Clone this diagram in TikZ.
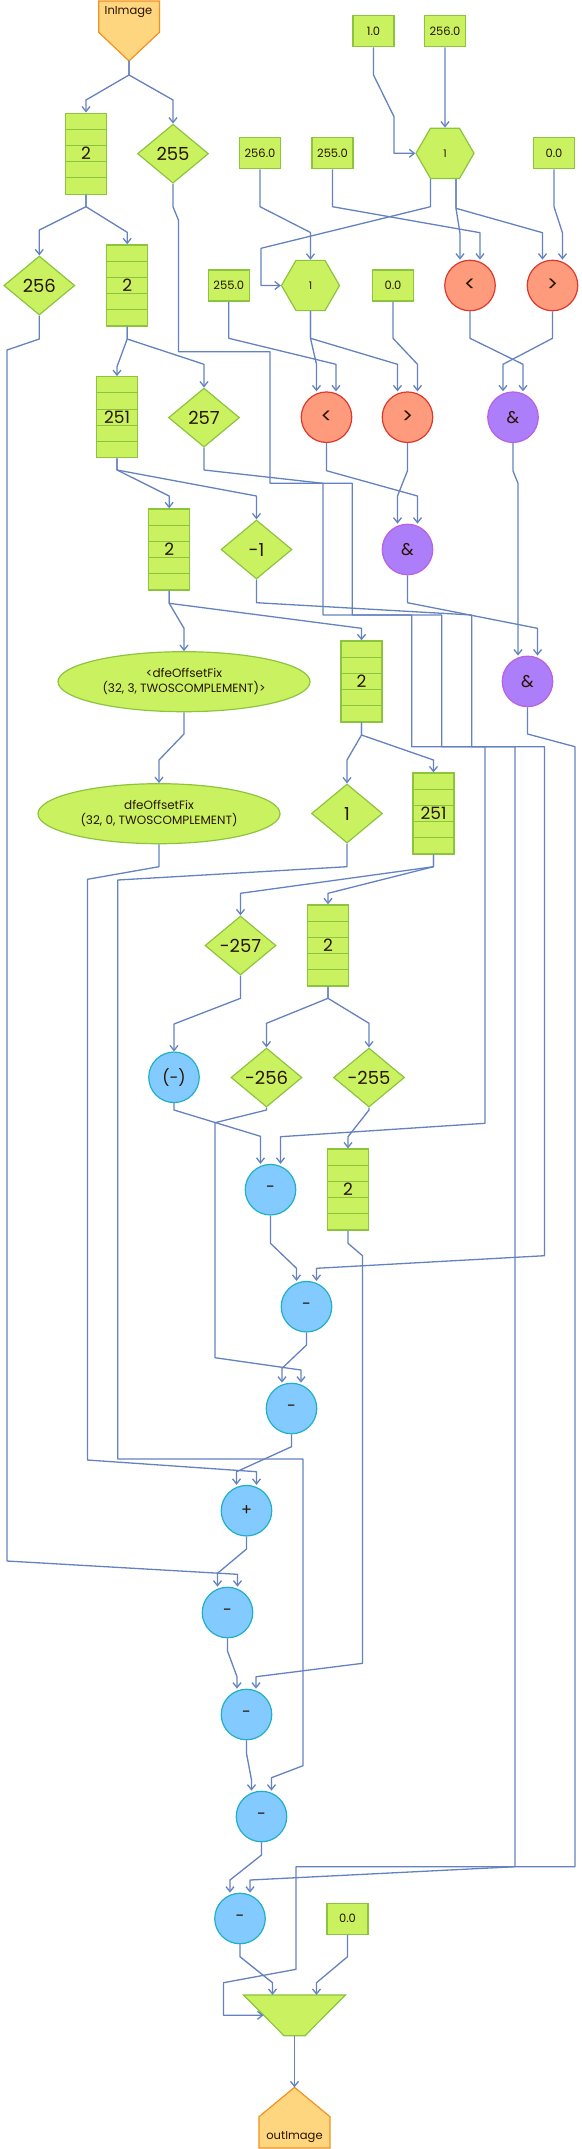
\documentclass[tikz,border=0pt]{standalone}
\usepackage{fontspec}
\setmainfont{Poppins}
\usetikzlibrary{arrows.meta,shapes.geometric,calc}
\definecolor{gfill}{RGB}{202,242,96}
\definecolor{gdraw}{RGB}{140,196,62}
\definecolor{ofill}{RGB}{255,214,128}
\definecolor{odraw}{RGB}{240,146,30}
\definecolor{rfill}{RGB}{255,155,125}
\definecolor{rdraw}{RGB}{222,56,44}
\definecolor{pfill}{RGB}{172,126,250}
\definecolor{pdraw}{RGB}{186,96,226}
\definecolor{bfill}{RGB}{130,202,255}
\definecolor{bdraw}{RGB}{32,176,196}
\definecolor{ecol}{RGB}{100,130,192}
\definecolor{tcol}{RGB}{40,20,0}
\begin{document}
\begin{tikzpicture}[x=1pt,y=-1pt,
  every node/.style={text=tcol},
  nbase/.style={line width=1.2pt, inner sep=0pt},
  constbox/.style={nbase, rectangle, draw=gdraw, fill=gfill, minimum width=41pt, minimum height=31pt, font=\fontsize{11.5}{13}\selectfont},
  fifobox/.style={nbase, rectangle, draw=gdraw, fill=gfill, minimum width=41pt, minimum height=81pt, font=\fontsize{17}{17}\selectfont,
    path picture={\foreach \f in {0.2,0.4,0.6,0.8}{\draw[gdraw,line width=1.1pt] ($(path picture bounding box.north west)!\f!(path picture bounding box.south west)$) -- ($(path picture bounding box.north east)!\f!(path picture bounding box.south east)$);}}},
  dia/.style={nbase, diamond, draw=gdraw, fill=gfill, minimum width=71pt, minimum height=59pt, font=\fontsize{18}{18}\selectfont},
  hexa/.style={nbase, regular polygon, regular polygon sides=6, draw=gdraw, fill=gfill, minimum size=58pt, font=\fontsize{10.5}{10.5}\selectfont},
  cmp/.style={nbase, circle, draw=rdraw, fill=rfill, minimum size=50.5pt, font=\fontsize{21}{21}\selectfont},
  andop/.style={nbase, circle, draw=pdraw, fill=pfill, minimum size=50.5pt, font=\fontsize{17}{17}\selectfont},
  arith/.style={nbase, circle, draw=bdraw, fill=bfill, minimum size=50.5pt, font=\fontsize{16}{16}\selectfont},
  oval/.style={nbase, ellipse, draw=gdraw, fill=gfill, minimum height=60pt, align=center, font=\fontsize{12}{14.5}\selectfont},
  ioshape/.style={draw=odraw, fill=ofill, line width=1.2pt},
  gpoly/.style={draw=gdraw, fill=gfill, line width=1.2pt},
  conn/.style={draw=ecol, line width=1.3pt, line join=round, -{Straight Barb[length=5pt,width=8pt]}},
]
\useasboundingbox (0,0) rectangle (581,2149);

% ---------- nodes ----------
\draw[ioshape] (98.7,1) -- (159.4,1) -- (159.4,32.3) -- (129,61) -- (98.7,32.3) -- cycle;
\node[font=\fontsize{11.5}{13}\selectfont] (inImg) at (128.5,12) {InImage};
\coordinate (inImgOut) at (129,61);

\node[constbox] (c1) at (373.5,31.2) {1.0};
\node[constbox] (c2) at (445,31.2) {256.0};

\node[fifobox] (fifoA) at (86,153.6) {2};
\node[dia] (d255) at (173,153.7) {255};
\node[constbox] (c3) at (260,153.2) {256.0};
\node[constbox] (c4) at (332.5,153.2) {255.0};
\node[hexa] (hexA) at (445,153.3) {1};
\node[constbox] (c5) at (554,153.2) {0.0};

\node[dia] (d256) at (39.3,285.5) {256};
\node[fifobox] (fifoB) at (127.2,285.4) {2};
\node[constbox] (c6) at (228.8,285.5) {255.0};
\node[hexa] (hexB) at (310.5,285.5) {1};
\node[constbox] (c7) at (393,285.5) {0.0};
\node[cmp] (ltA) at (470,285.5) {<};
\node[cmp] (gtA) at (552.5,285.5) {>};

\node[fifobox] (fifoC) at (117,417.2) {251};
\node[dia] (d257) at (204,417.6) {257};
\node[cmp] (ltB) at (326.5,417.2) {<};
\node[cmp] (gtB) at (407.5,417.2) {>};
\node[andop] (andA) at (513,417.2) {\&};

\node[fifobox] (fifoD) at (169.2,549.4) {2};
\node[dia] (dm1) at (256.5,549.5) {-1};
\node[andop] (andB) at (407.5,549.5) {\&};

\node[oval, minimum width=252pt] (ell1) at (184,681.7) {<dfeOffsetFix\\(32, 3, TWOSCOMPLEMENT)>};
\node[fifobox] (fifoE) at (361.5,681.4) {2};
\node[andop] (andC) at (527.5,681.4) {\&};

\node[oval, minimum width=242pt] (ell2) at (159,813.7) {dfeOffsetFix\\(32, 0, TWOSCOMPLEMENT)};
\node[dia] (d1) at (347,813.5) {1};
\node[fifobox] (fifoF) at (433.5,813.5) {251};

\node[dia] (dm257) at (240.5,945.5) {-257};
\node[fifobox] (fifoG) at (328,945.4) {2};

\node[arith] (neg) at (174,1077.3) {(-)};
\node[dia] (dm256) at (266.5,1077.5) {-256};
\node[dia] (dm255) at (369,1077.5) {-255};

\node[arith] (sub1) at (270.5,1189.7) {-};
\node[fifobox] (fifoH) at (348,1189.5) {2};
\node[arith] (sub2) at (306.5,1306.7) {-};
\node[arith] (sub3) at (291.5,1408.5) {-};
\node[arith] (addop) at (246.5,1510.7) {+};
\node[arith] (sub4) at (227.5,1612.5) {-};
\node[arith] (sub5) at (246.5,1714.5) {-};
\node[arith] (sub6) at (261.5,1816.5) {-};
\node[arith] (sub7) at (240,1918.5) {-};
\node[constbox] (c8) at (347.5,1918.7) {0.0};

\node[minimum width=102pt, minimum height=40.7pt, inner sep=0pt, outer sep=0pt] (mux) at (294.5,2015.3) {};
\draw[gpoly] (mux.north west) -- (mux.north east) -- ([xshift=-40.5pt]mux.south east) -- ([xshift=40.5pt]mux.south west) -- cycle;

\draw[ioshape] (259,2148) -- (330,2148) -- (330,2116.7) -- (294.5,2087.3) -- (259,2116.7) -- cycle;
\node[font=\fontsize{11.5}{13}\selectfont] (outImg) at (294.5,2137.5) {outImage};
\coordinate (outImgIn) at (294.5,2087.3);

% ---------- connectors ----------
\draw[conn] (inImgOut) -- (129,75) -- (86,100) -- (fifoA.north);
\draw[conn] (inImgOut) -- (129,75) -- (173,100) -- (d255.north);
\draw[conn] (c1.south) -- (373.5,75) -- (394,116.7) -- (394,153.3) -- (hexA.west);
\draw[conn] (c2.south) -- (hexA.north);
\draw[conn] (fifoA.south) -- (86,206.7) -- (39.3,230) -- (d256.north);
\draw[conn] (fifoA.south) -- (86,206.7) -- (127.2,232.3) -- (fifoB.north);
\draw[conn] (d255.south) -- (173,206.7) -- (178.4,220) -- (178.4,351.7) -- (270,351.7) -- (270,483.3) -- (352.2,483.3) -- (352.2,615) -- (441.7,615) -- (441.7,746.7) -- (515,746.7) -- (515,1866.7) -- (250,1880) -- ([xshift=10pt]sub7.north);
\draw[conn] (c3.south) -- (260,206.7) -- (310.5,232.5) -- (hexB.north);
\draw[conn] (c4.south) -- (332.5,206.7) -- (480,232.7) -- ([xshift=10pt]ltA.north);
\draw[conn] ([xshift=-14.5pt]hexA.south) -- (430.5,206.7) -- (261,248.3) -- (261,285.5) -- (hexB.west);
\draw[conn] ([xshift=11pt]hexA.south) -- (456,208.3) -- (460,233.3) -- ([xshift=-10pt]ltA.north);
\draw[conn] ([xshift=11pt]hexA.south) -- (456,208.3) -- (542.5,232.7) -- ([xshift=-10pt]gtA.north);
\draw[conn] (c5.south) -- (554,206.7) -- (562.5,233) -- ([xshift=10pt]gtA.north);
\draw[conn] (d256.south) -- (39.3,339) -- (7,350) -- (7,1561) -- (237.5,1574.3) -- ([xshift=10pt]sub4.north);
\draw[conn] (fifoB.south) -- (127.2,339) -- (117,366.7) -- (fifoC.north);
\draw[conn] (fifoB.south) -- (127.2,339) -- (204,364.3) -- (d257.north);
\draw[conn] (c6.south) -- (228.8,338.3) -- (336,364.3) -- ([xshift=9.5pt]ltB.north);
\draw[conn] (hexB.south) -- (310.5,338.3) -- (316.5,364.3) -- ([xshift=-10pt]ltB.north);
\draw[conn] (hexB.south) -- (310.5,338.3) -- (397.5,364.3) -- ([xshift=-10pt]gtB.north);
\draw[conn] (c7.south) -- (393,338.3) -- (417.5,364.3) -- ([xshift=10pt]gtB.north);
\draw[conn] (ltA.south) -- (470,338.3) -- (523,364.3) -- ([xshift=10pt]andA.north);
\draw[conn] (gtA.south) -- (552.5,338.3) -- (503,364.3) -- ([xshift=-10pt]andA.north);
\draw[conn] (fifoC.south) -- (117,470) -- (169.2,496) -- (fifoD.north);
\draw[conn] (fifoC.south) -- (117,470) -- (256.5,496) -- (dm1.north);
\draw[conn] (d257.south) -- (204,470) -- (323,483.3) -- (323,615) -- (411.7,615) -- (411.7,746.7) -- (485,746.7) -- (485,1123.3) -- (280.5,1136.7) -- ([xshift=10pt]sub1.north);
\draw[conn] (ltB.south) -- (326.5,470.7) -- (417.5,496) -- ([xshift=10pt]andB.north);
\draw[conn] (gtB.south) -- (407.5,470.7) -- (397.5,496) -- ([xshift=-10pt]andB.north);
\draw[conn] (andA.south) -- (513,471) -- (518,483.3) -- ([xshift=-9.5pt]andC.north);
\draw[conn] (dm1.south) -- (256.5,602.7) -- (471.7,615) -- (471.7,746.7) -- (544.5,746.7) -- (544.5,1255.7) -- (316.5,1268.3) -- ([xshift=10pt]sub2.north);
\draw[conn] (andB.south) -- (407.5,602.7) -- (537.5,628.3) -- ([xshift=10pt]andC.north);
\draw[conn] (fifoD.south) -- (169.2,603.3) -- (184,628.3) -- (ell1.north);
\draw[conn] (fifoD.south) -- (169.2,603.3) -- (361.5,628.3) -- (fifoE.north);
\draw[conn] (andC.south) -- (527.5,734) -- (575,746.7) -- (575,1866.7) -- (296,1866.7) -- (296,1969.3) -- (223.5,1982.7) -- (223.5,2015.3) -- ([xshift=20pt]mux.west);
\draw[conn] (ell1.south) -- (184,734) -- (159,760) -- (ell2.north);
\draw[conn] (fifoE.south) -- (361.5,735) -- (347,760) -- (d1.north);
\draw[conn] (fifoE.south) -- (361.5,735) -- (433.5,760) -- (fifoF.north);
\draw[conn] (ell2.south) -- (159,866.7) -- (87.4,879.3) -- (87.4,1460) -- (256.5,1471.7) -- ([xshift=10pt]addop.north);
\draw[conn] (d1.south) -- (347,866.7) -- (117.8,880) -- (117.8,1459) -- (303,1459) -- (303,1765.7) -- (271.5,1777.7) -- ([xshift=10pt]sub6.north);
\draw[conn] (fifoF.south) -- (433.5,866.7) -- (240.5,893.3) -- (dm257.north);
\draw[conn] (fifoF.south) -- (433.5,866.7) -- (328,893.3) -- (fifoG.north);
\draw[conn] (dm257.south) -- (240.5,998.3) -- (174,1024) -- (neg.north);
\draw[conn] (fifoG.south) -- (328,998.3) -- (266.5,1023.3) -- (dm256.north);
\draw[conn] (fifoG.south) -- (328,998.3) -- (369,1023.3) -- (dm255.north);
\draw[conn] (neg.south) -- (174,1110) -- (260.5,1136.3) -- ([xshift=-10pt]sub1.north);
\draw[conn] (dm256.south) -- (266.5,1110) -- (215,1122.7) -- (215,1357.7) -- (301,1370) -- ([xshift=9.5pt]sub3.north);
\draw[conn] (dm255.south) -- (369,1110) -- (348,1136.7) -- (fifoH.north);
\draw[conn] (sub1.south) -- (270.5,1243.3) -- (296.5,1268.3) -- ([xshift=-10pt]sub2.north);
\draw[conn] (fifoH.south) -- (348,1243.3) -- (362.5,1255.7) -- (362.5,1663.3) -- (256,1676.7) -- ([xshift=9.5pt]sub5.north);
\draw[conn] (sub2.south) -- (306.5,1345) -- (282,1368.3) -- ([xshift=-9.5pt]sub3.north);
\draw[conn] (sub3.south) -- (291.5,1446.7) -- (236.5,1471.7) -- ([xshift=-10pt]addop.north);
\draw[conn] (addop.south) -- (246.5,1549) -- (217.5,1573.3) -- ([xshift=-10pt]sub4.north);
\draw[conn] (sub4.south) -- (227.5,1651) -- (237,1676.7) -- ([xshift=-9.5pt]sub5.north);
\draw[conn] (sub5.south) -- (246.5,1753.3) -- (251.5,1780) -- ([xshift=-10pt]sub6.north);
\draw[conn] (sub6.south) -- (261.5,1855) -- (230,1880) -- ([xshift=-10pt]sub7.north);
\draw[conn] (sub7.south) -- (240,1956.7) -- (272.5,1982.7) -- ([xshift=-22pt]mux.north);
\draw[conn] (c8.south) -- (347.5,1956.7) -- (316.5,1982.7) -- ([xshift=22pt]mux.north);
\draw[conn] (mux.south) -- (outImgIn);
\end{tikzpicture}
\end{document}
